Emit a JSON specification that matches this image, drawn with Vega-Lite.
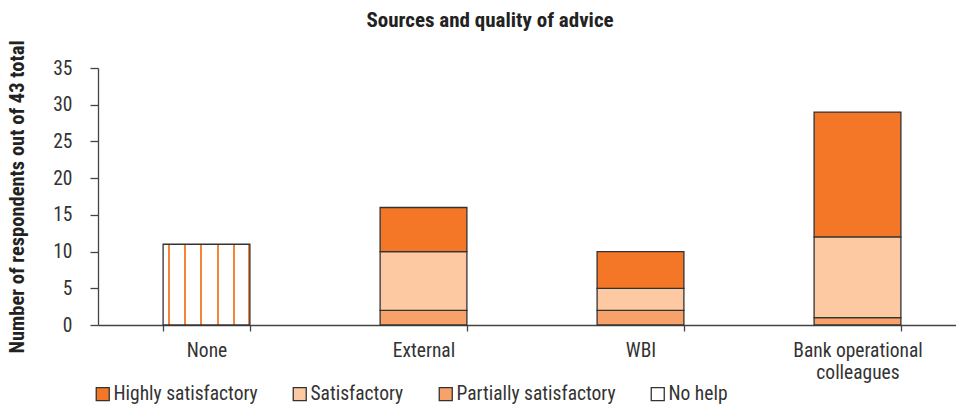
{
  "$schema": "https://vega.github.io/schema/vega-lite/v6.json",
  "width": 858,
  "height": 257,
  "autosize": {"type": "none"},
  "padding": {"left": 98, "top": 68, "right": 0, "bottom": 80},
  "background": "white",
  "config": {
    "font": "Roboto Condensed, DejaVu Sans Condensed, Roboto",
    "view": {"stroke": null}
  },
  "title": {
    "text": "Sources and quality of advice",
    "fontSize": 21,
    "fontWeight": "bold",
    "color": "#222",
    "anchor": "middle",
    "dx": -37,
    "offset": 9
  },
  "data": {
    "values": [
      {"source": "None", "quality": "No help", "count": 11},
      {"source": "External", "quality": "Partially satisfactory", "count": 2},
      {"source": "External", "quality": "Satisfactory", "count": 8},
      {"source": "External", "quality": "Highly satisfactory", "count": 6},
      {"source": "WBI", "quality": "Partially satisfactory", "count": 2},
      {"source": "WBI", "quality": "Satisfactory", "count": 3},
      {"source": "WBI", "quality": "Highly satisfactory", "count": 5},
      {"source": "Bank operational colleagues", "quality": "Partially satisfactory", "count": 1},
      {"source": "Bank operational colleagues", "quality": "Satisfactory", "count": 11},
      {"source": "Bank operational colleagues", "quality": "Highly satisfactory", "count": 17}
    ]
  },
  "transform": [
    {"calculate": "indexof(['Partially satisfactory','Satisfactory','Highly satisfactory','No help'], datum.quality)", "as": "stackRank"}
  ],
  "mark": {"type": "bar", "stroke": "#333", "strokeWidth": 1.3},
  "encoding": {
    "x": {
      "field": "source",
      "type": "nominal",
      "sort": ["None", "External", "WBI", "Bank operational colleagues"],
      "scale": {"paddingInner": 0.6, "paddingOuter": 0.277, "align": 0.5416},
      "axis": {
        "title": null,
        "labelAngle": 0,
        "labelFontSize": 19.5,
        "labelColor": "#333",
        "labelPadding": 10,
        "labelLimit": 300,
        "labelExpr": "datum.label == 'Bank operational colleagues' ? ['Bank operational', 'colleagues'] : datum.label",
        "labelLineHeight": 22,
        "tickBand": "extent",
        "tickSize": 6,
        "tickColor": "#444",
        "domainColor": "#444",
        "domainWidth": 1.3,
        "tickWidth": 1.3,
        "grid": false
      }
    },
    "y": {
      "field": "count",
      "type": "quantitative",
      "stack": "zero",
      "scale": {"domain": [0, 35], "nice": false},
      "axis": {
        "title": "Number of respondents out of 43 total",
        "titleFontSize": 20.5,
        "titleFontWeight": "bold",
        "titleColor": "#222",
        "titlePadding": 25,
        "values": [0, 5, 10, 15, 20, 25, 30, 35],
        "labelFontSize": 19.5,
        "labelColor": "#333",
        "labelPadding": 18,
        "tickSize": 8,
        "tickColor": "#444",
        "domainColor": "#444",
        "domainWidth": 1.3,
        "tickWidth": 1.3,
        "grid": false
      }
    },
    "order": {"field": "stackRank", "type": "quantitative", "sort": "ascending"},
    "color": {
      "field": "quality",
      "type": "nominal",
      "scale": {
        "domain": ["Highly satisfactory", "Satisfactory", "Partially satisfactory", "No help"],
        "range": ["#F37726", "#FCC9A3", "#F8A26B", "#FFFFFF"]
      },
      "condition": {
        "test": "datum.quality === 'No help'",
        "value": {
          "gradient": "linear",
          "x1": 0, "y1": 0, "x2": 1, "y2": 0,
          "stops": [
            {"offset": 0, "color": "#FFFFFF"},
            {"offset": 0.058, "color": "#FFFFFF"},
            {"offset": 0.058, "color": "#F5843A"},
            {"offset": 0.08, "color": "#F5843A"},
            {"offset": 0.08, "color": "#FFFFFF"},
            {"offset": 0.242, "color": "#FFFFFF"},
            {"offset": 0.242, "color": "#F5843A"},
            {"offset": 0.264, "color": "#F5843A"},
            {"offset": 0.264, "color": "#FFFFFF"},
            {"offset": 0.429, "color": "#FFFFFF"},
            {"offset": 0.429, "color": "#F5843A"},
            {"offset": 0.451, "color": "#F5843A"},
            {"offset": 0.451, "color": "#FFFFFF"},
            {"offset": 0.618, "color": "#FFFFFF"},
            {"offset": 0.618, "color": "#F5843A"},
            {"offset": 0.64, "color": "#F5843A"},
            {"offset": 0.64, "color": "#FFFFFF"},
            {"offset": 0.802, "color": "#FFFFFF"},
            {"offset": 0.802, "color": "#F5843A"},
            {"offset": 0.824, "color": "#F5843A"},
            {"offset": 0.824, "color": "#FFFFFF"},
            {"offset": 0.978, "color": "#FFFFFF"},
            {"offset": 0.978, "color": "#F5843A"},
            {"offset": 1, "color": "#F5843A"}
          ]
        }
      },
      "legend": {
        "title": null,
        "orient": "none",
        "legendX": -5,
        "legendY": 316,
        "direction": "horizontal",
        "symbolType": "square",
        "symbolSize": 169,
        "symbolStrokeColor": "#333",
        "symbolStrokeWidth": 1.3,
        "labelFontSize": 19.5,
        "labelColor": "#333",
        "labelOffset": 1,
        "labelLimit": 300,
        "columnPadding": 32,
        "encode": {
          "symbols": {
            "update": {
              "stroke": {"value": "#333"},
              "strokeWidth": {"value": 1.3},
              "opacity": {"value": 1}
            }
          }
        }
      }
    }
  }
}
